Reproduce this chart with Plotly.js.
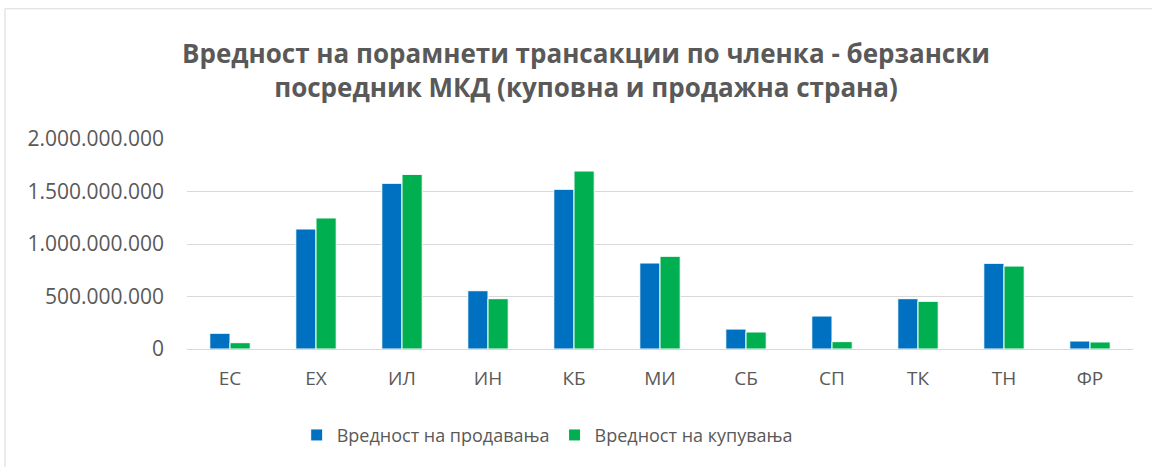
<!DOCTYPE html>
<html>
<head>
<meta charset="utf-8">
<script src="https://cdn.plot.ly/plotly-3.0.1.min.js"></script>
<style>html,body{margin:0;padding:0;background:#fff;}#chart{width:1152px;height:467px;}</style>
</head>
<body>
<div id="chart"></div>
<script>
const categories = ["ЕС","ЕХ","ИЛ","ИН","КБ","МИ","СБ","СП","ТК","ТН","ФР"];
const sellValues = [150000000, 1143000000, 1578000000, 555000000, 1521000000, 819000000, 190000000, 314000000, 479000000, 816000000, 76000000];
const buyValues = [60000000, 1248000000, 1663000000, 479000000, 1695000000, 883000000, 162000000, 70000000, 454000000, 790000000, 67000000];
const seriesNames = ["Вредност на продавања", "Вредност на купувања"];
const titleText = "Вредност на порамнети трансакции по членка - берзански<br>посредник МКД (куповна и продажна страна)";

const txt = "#595959";
const font = "Open Sans, Noto Sans, sans-serif";

const traces = [
  {type:"bar", name:seriesNames[0], x:categories, y:sellValues,
   marker:{color:"#0070C0", line:{color:"#ffffff", width:1}}, hoverinfo:"none"},
  {type:"bar", name:seriesNames[1], x:categories, y:buyValues,
   marker:{color:"#00B050", line:{color:"#ffffff", width:1}}, hoverinfo:"none"}
];

const layout = {
  width:1152, height:467,
  paper_bgcolor:"#ffffff", plot_bgcolor:"#ffffff",
  separators:",.",
  margin:{l:187, r:19, t:139, b:118},
  barmode:"group", bargap:0.53, bargroupgap:0,
  font:{family:font, color:txt},
  title:{text:titleText, xref:"container", x:0.5087, xanchor:"center",
         yref:"container", y:0.865, yanchor:"top",
         font:{family:font, size:26, color:txt, weight:"bold"}},
  xaxis:{type:"category", showgrid:false, showline:true, linecolor:"#d9d9d9", linewidth:1,
         ticks:"", tickfont:{size:19, color:txt}, ticklabelstandoff:12, zeroline:false},
  yaxis:{range:[0,2000000000], dtick:500000000, tickformat:",d", showgrid:true, gridcolor:"#d9d9d9",
         gridwidth:1, zeroline:false, showline:false, ticks:"", tickfont:{size:21, color:txt},
         ticklabelstandoff:22},
  legend:{orientation:"h", xref:"container", x:0.475, xanchor:"center", yref:"container", y:0.068, yanchor:"middle",
          font:{size:18, color:txt}, itemclick:false, traceorder:"normal", itemwidth:30},
  shapes:[{type:"rect", xref:"paper", yref:"paper", x0:-0.1924, x1:1.05, y0:-0.6, y1:1.62,
           line:{color:"#d9d9d9", width:1}, fillcolor:"rgba(0,0,0,0)", layer:"above"}],
  showlegend:true
};

Plotly.newPlot("chart", traces, layout, {displayModeBar:false, staticPlot:true});
</script>
</body>
</html>
